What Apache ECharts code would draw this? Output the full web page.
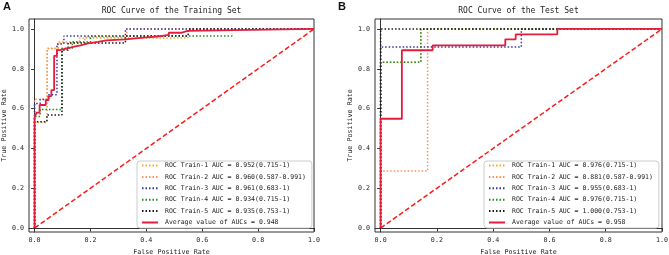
<!DOCTYPE html>
<html>
<head>
<meta charset="utf-8">
<script src="https://cdn.jsdelivr.net/npm/echarts@6/dist/echarts.min.js"></script>
<style>
  html, body { margin: 0; padding: 0; background: #fff; }
  #main { width: 669px; height: 255px; }
</style>
</head>
<body>
<div id="main"></div>
<script>
// ---- training set ROC points (fpr / tpr) ----
var trainFpr1 = [0, 0, 0.045, 0.045, 0.085, 0.085, 0.16, 0.16, 0.549, 0.549];
var trainTpr1 = [0, 0.53, 0.53, 0.9, 0.9, 0.93, 0.93, 0.955, 0.955, 0.99];
var trainFpr2 = [0, 0, 0.045, 0.045, 0.085, 0.085, 0.18, 0.18, 0.33, 0.33, 1];
var trainTpr2 = [0, 0.647, 0.647, 0.903, 0.903, 0.935, 0.935, 0.96, 0.96, 1, 1];
var trainFpr3 = [0, 0, 0.02, 0.02, 0.05, 0.05, 0.08, 0.08, 0.105, 0.105, 0.325, 0.325, 1];
var trainTpr3 = [0, 0.625, 0.625, 0.645, 0.645, 0.67, 0.67, 0.925, 0.925, 0.965, 0.965, 1, 1];
var trainFpr4 = [0, 0, 0.02, 0.02, 0.098, 0.098, 0.135, 0.135, 0.2, 0.2, 0.706, 0.706];
var trainTpr4 = [0, 0.56, 0.56, 0.596, 0.596, 0.903, 0.903, 0.935, 0.935, 0.965, 0.965, 0.98];
var trainFpr5 = [0, 0, 0.044, 0.044, 0.098, 0.098, 0.12, 0.12, 0.325, 0.325, 0.55, 0.55, 1];
var trainTpr5 = [0, 0.534, 0.534, 0.568, 0.568, 0.894, 0.894, 0.93, 0.93, 0.965, 0.965, 1, 1];
var trainFprAvg = [0, 0, 0.007, 0.007, 0.018, 0.018, 0.04, 0.04, 0.05, 0.05, 0.06, 0.06, 0.07, 0.07,
  0.08, 0.08, 0.09, 0.09, 0.117, 0.117, 0.138, 0.138, 0.164, 0.164, 0.192, 0.192, 0.226, 0.226,
  0.257, 0.257, 0.325, 0.325, 0.39, 0.39, 0.438, 0.438, 0.48, 0.48, 0.527, 0.527, 0.548, 0.548, 1];
var trainTprAvg = [0, 0.555, 0.555, 0.58, 0.58, 0.618, 0.618, 0.643, 0.643, 0.663, 0.663, 0.693, 0.693, 0.865,
  0.865, 0.894, 0.894, 0.903, 0.903, 0.91, 0.91, 0.918, 0.918, 0.928, 0.928, 0.935, 0.935, 0.943,
  0.943, 0.948, 0.948, 0.956, 0.956, 0.962, 0.962, 0.97, 0.97, 0.981, 0.981, 0.99, 0.99, 1, 1];
var trainNames = [
  'ROC Train-1 AUC = 0.952(0.715-1)',
  'ROC Train-2 AUC = 0.960(0.587-0.991)',
  'ROC Train-3 AUC = 0.961(0.683-1)',
  'ROC Train-4 AUC = 0.934(0.715-1)',
  'ROC Train-5 AUC = 0.935(0.753-1)',
  'Average value of AUCs = 0.948'
];

// ---- test set ROC points ----
var testFpr1 = [0, 0, 0.143, 0.143, 1];
var testTpr1 = [0, 0.833, 0.833, 1, 1];
var testFpr2 = [0, 0, 0.167, 0.167, 1];
var testTpr2 = [0, 0.286, 0.286, 1, 1];
var testFpr3 = [0, 0, 0.5, 0.5, 1];
var testTpr3 = [0, 0.909, 0.909, 1, 1];
var testFpr4 = [0, 0, 0.143, 0.143, 1];
var testTpr4 = [0, 0.833, 0.833, 1, 1];
var testFpr5 = [0, 0, 1];
var testTpr5 = [0, 1, 1];
var testFprAvg = [0, 0, 0.0755, 0.0755, 0.185, 0.185, 0.443, 0.443, 0.48, 0.48, 0.628, 0.628, 1];
var testTprAvg = [0, 0.549, 0.549, 0.893, 0.893, 0.918, 0.918, 0.948, 0.948, 0.973, 0.973, 1, 1];
var testNames = [
  'ROC Train-1 AUC = 0.976(0.715-1)',
  'ROC Train-2 AUC = 0.881(0.587-0.991)',
  'ROC Train-3 AUC = 0.955(0.683-1)',
  'ROC Train-4 AUC = 0.976(0.715-1)',
  'ROC Train-5 AUC = 1.000(0.753-1)',
  'Average value of AUCs = 0.958'
];

var diagX = [0, 1];
var diagY = [0, 1];
var tickValues = [0, 0.2, 0.4, 0.6, 0.8, 1.0];

var colors = ['#f2a935', '#ff8f5a', '#34349a', '#1f8f1f', '#1a1a1a', '#e51c3c'];
var mono = '"DejaVu Sans Mono", "Liberation Mono", monospace';

function pairs(xs, ys) {
  return xs.map(function(x, i) { return [x, ys[i]]; });
}

function makeSeries(names, curves, idx) {
  var list = [];
  curves.forEach(function(c, i) {
    var avg = i == 5;
    list.push({
      name: names[i],
      type: 'line',
      xAxisIndex: idx,
      yAxisIndex: idx,
      symbol: 'none',
      animation: false,
      data: pairs(c[0], c[1]),
      lineStyle: {
        color: colors[i],
        width: avg ? 1.8 : 1.5,
        type: avg ? 'solid' : [1.5, 2]
      },
      itemStyle: { color: colors[i] },
      z: avg ? 4 : 3
    });
  });
  list.push({
    name: 'diag' + idx,
    type: 'line',
    xAxisIndex: idx,
    yAxisIndex: idx,
    symbol: 'none',
    animation: false,
    data: pairs(diagX, diagY),
    lineStyle: { color: '#ff1a1a', width: 1.5, type: [5, 2.5] },
    z: 5
  });
  return list;
}

function xAxisCfg(idx) {
  return {
    gridIndex: idx, type: 'value', min: -0.02, max: 1.0,
    name: 'False Positive Rate', nameLocation: 'middle', nameGap: 17,
    nameTextStyle: { fontFamily: mono, fontSize: 6.7, color: '#222' },
    axisLine: { show: true, lineStyle: { color: '#333' } },
    axisTick: { show: true, length: 3.5, customValues: tickValues, lineStyle: { color: '#333' } },
    axisLabel: {
      customValues: tickValues, margin: 5, fontFamily: mono, fontSize: 6.7, color: '#222',
      formatter: function(v) { return v.toFixed(1); }
    },
    splitLine: { show: false }
  };
}

function yAxisCfg(idx) {
  return {
    gridIndex: idx, type: 'value', min: -0.02, max: 1.05,
    name: 'True Positive Rate', nameLocation: 'middle', nameGap: 19,
    nameTextStyle: { fontFamily: mono, fontSize: 6.7, color: '#222' },
    axisLine: { show: true, lineStyle: { color: '#333' } },
    axisTick: { show: true, length: 3.5, customValues: tickValues, lineStyle: { color: '#333' } },
    axisLabel: {
      customValues: tickValues, margin: 5, fontFamily: mono, fontSize: 6.7, color: '#222',
      formatter: function(v) { return v.toFixed(1); }
    },
    splitLine: { show: false }
  };
}

function legendCfg(names, left) {
  return {
    data: names,
    orient: 'vertical',
    left: left,
    top: 161,
    padding: [1, 6, 2, 4],
    itemWidth: 16,
    itemHeight: 8,
    itemGap: 4.4,
    backgroundColor: 'rgba(255,255,255,0.8)',
    borderColor: '#cccccc',
    borderWidth: 1,
    borderRadius: 3,
    selectedMode: false,
    itemStyle: { opacity: 0 },
    textStyle: { fontFamily: mono, fontSize: 6.5, color: '#222', padding: [0, 0, 0, 2] }
  };
}

var trainCurves = [
  [trainFpr1, trainTpr1], [trainFpr2, trainTpr2], [trainFpr3, trainTpr3],
  [trainFpr4, trainTpr4], [trainFpr5, trainTpr5], [trainFprAvg, trainTprAvg]
];
var testCurves = [
  [testFpr1, testTpr1], [testFpr2, testTpr2], [testFpr3, testTpr3],
  [testFpr4, testTpr4], [testFpr5, testTpr5], [testFprAvg, testTprAvg]
];

var myChart = echarts.init(document.getElementById('main'), null, { renderer: 'canvas' });
var option = {
  backgroundColor: '#fff',
  animation: false,
  grid: [
    { left: 29, top: 19, width: 285, height: 213, show: true, borderColor: '#333', borderWidth: 1, outerBoundsMode: 'none' },
    { left: 375, top: 19, width: 287, height: 213, show: true, borderColor: '#333', borderWidth: 1, outerBoundsMode: 'none' }
  ],
  xAxis: [xAxisCfg(0), xAxisCfg(1)],
  yAxis: [yAxisCfg(0), yAxisCfg(1)],
  legend: [legendCfg(trainNames, 137), legendCfg(testNames, 484)],
  graphic: [
    { type: 'text', left: 3, top: 1, style: { text: 'A', font: 'bold 11px "Liberation Sans", Arial', fill: '#111' } },
    { type: 'text', left: 338, top: 1, style: { text: 'B', font: 'bold 11px "Liberation Sans", Arial', fill: '#111' } },
    { type: 'text', x: 171.5, y: 7, style: { text: 'ROC Curve of the Training Set', font: '8px ' + mono, fill: '#222', textAlign: 'center' } },
    { type: 'text', x: 518.5, y: 7, style: { text: 'ROC Curve of the Test Set', font: '8px ' + mono, fill: '#222', textAlign: 'center' } }
  ],
  series: makeSeries(trainNames, trainCurves, 0).concat(makeSeries(testNames, testCurves, 1))
};
myChart.setOption(option);
</script>
</body>
</html>
